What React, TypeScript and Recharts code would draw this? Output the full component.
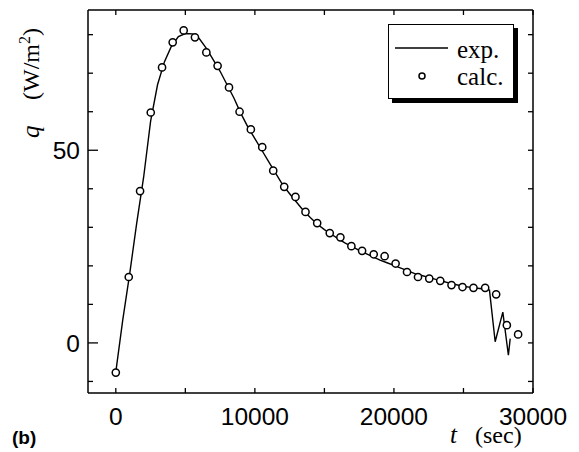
import React from 'react';
import { ComposedChart, Line, Scatter, XAxis, YAxis, Legend } from 'recharts';

// axis ticks
const tTicks = [0, 5000, 10000, 15000, 20000, 25000, 30000];
const tLabels = [0, 10000, 20000, 30000];
const qTicks = [-10, 0, 10, 20, 30, 40, 50, 60, 70, 80];
const qLabels = [0, 50];

// measured heat flux (exp.)
const expT = [0, 500, 1000, 1500, 2000, 2500, 3000, 3500, 4000, 4500, 5000, 5500, 6000, 6500, 7000, 7500, 8000, 8500, 9000, 9500, 10000, 10500, 11000, 11500, 12000, 12500, 13000, 13500, 14000, 14500, 15000, 15500, 16000, 16500, 17000, 17500, 18000, 18500, 19000, 19500, 20000, 20500, 21000, 21500, 22000, 22500, 23000, 23500, 24000, 24500, 25000, 25500, 26000, 26500, 26870, 27280, 27830, 28230, 28360];
const expQ = [-7.5, 6, 18, 31, 43, 57.5, 67, 73, 77, 79.5, 80.3, 80.2, 79, 76.5, 73.5, 70.5, 67, 63.5, 59.5, 56, 53, 50, 47, 44, 41, 38.7, 36.5, 34.3, 32.5, 30.8, 29.4, 28.2, 27, 25.9, 25, 24, 23.2, 22.3, 21.5, 20.8, 20.1, 19.4, 18.7, 18, 17.5, 17, 16.5, 16, 15.5, 15.1, 14.7, 14.4, 14.2, 14, 13.7, 0.3, 8, -3.2, 1.1];

// calculated heat flux (calc.)
const calcT = [0, 930, 1745, 2513, 3325, 4090, 4880, 5690, 6510, 7320, 8140, 8900, 9710, 10530, 11320, 12110, 12920, 13640, 14480, 15385, 16150, 16940, 17710, 18545, 19330, 20120, 20940, 21730, 22540, 23330, 24140, 24930, 25720, 26560, 27350, 28120, 28930];
const calcQ = [-7.7, 17.1, 39.4, 59.8, 71.5, 78.0, 81.1, 79.3, 75.4, 71.9, 66.3, 60.0, 55.4, 50.8, 44.7, 40.5, 37.9, 34.0, 31.1, 28.5, 27.4, 25.1, 23.9, 23.0, 22.5, 20.6, 18.4, 17.1, 16.7, 16.1, 15.0, 14.5, 14.3, 14.3, 12.6, 4.6, 2.2];

const expData = expT.map((t, i) => ({ t, q: expQ[i] }));
const calcData = calcT.map((t, i) => ({ t, q: calcQ[i] }));

const sans = '"Liberation Sans", Arial, sans-serif';
const serif = '"Liberation Serif", "Times New Roman", serif';
const frame = { stroke: '#000', strokeWidth: 1.5 };

const BottomTick = (p: any) => {
  const v = p.payload.value;
  return (
    <g>
      <line x1={p.x} x2={p.x} y1={p.y} y2={p.y - 5} stroke="#000" strokeWidth={1.3} />
      {tLabels.includes(v) && (
        <text x={p.x} y={p.y + 32} textAnchor="middle" fontFamily={sans} fontSize={24.5} fill="#000">{v}</text>
      )}
    </g>
  );
};

const TopTick = (p: any) => (
  <line x1={p.x} x2={p.x} y1={p.y} y2={p.y + 5} stroke="#000" strokeWidth={1.3} />
);

const LeftTick = (p: any) => {
  const v = p.payload.value;
  const major = qLabels.includes(v);
  return (
    <g>
      <line x1={p.x} x2={p.x + (major ? 10 : 5)} y1={p.y} y2={p.y} stroke="#000" strokeWidth={1.3} />
      {major && (
        <text x={p.x - 8} y={p.y + 9} textAnchor="end" fontFamily={sans} fontSize={24.5} fill="#000">{v}</text>
      )}
    </g>
  );
};

const RightTick = (p: any) => (
  <line x1={p.x} x2={p.x - 5} y1={p.y} y2={p.y} stroke="#000" strokeWidth={1.3} />
);

const Circle = (p: any) => (
  <circle cx={p.cx} cy={p.cy} r={3.6} fill="#fff" stroke="#000" strokeWidth={1.5} />
);

const LegendBox = () => (
  <div style={{ width: 126, height: 75, border: '1.3px solid #000', boxSizing: 'border-box', background: '#fff', boxShadow: '4px 4px 0 #000' }}>
    <svg width={124} height={73}>
      <line x1={6} x2={59} y1={23} y2={23} stroke="#000" strokeWidth={1.3} />
      <text x={68} y={33} fontFamily={serif} fontSize={25} fill="#000">exp.</text>
      <circle cx={33} cy={51} r={3} fill="#fff" stroke="#000" strokeWidth={1.5} />
      <text x={68} y={60} fontFamily={serif} fontSize={25} fill="#000">calc.</text>
    </svg>
  </div>
);

export default function App() {
  return (
    <div style={{ position: 'absolute', left: 0, top: 0, width: 579, height: 452, background: '#fff' }}>
      <ComposedChart width={579} height={452} margin={{ top: 9, right: 45, bottom: 19, left: 8 }}>
        <XAxis xAxisId="b" type="number" dataKey="t" domain={[-2000, 30000]} ticks={tTicks} interval={0}
          allowDataOverflow height={40} tickSize={0} tickMargin={0} tickLine={false} axisLine={frame} tick={BottomTick} />
        <XAxis xAxisId="t" orientation="top" type="number" dataKey="t" domain={[-2000, 30000]} ticks={tTicks} interval={0}
          allowDataOverflow height={1} tickSize={0} tickMargin={0} tickLine={false} axisLine={frame} tick={TopTick} />
        <YAxis yAxisId="l" type="number" dataKey="q" domain={[-13, 86.4]} ticks={qTicks} interval={0}
          allowDataOverflow width={80} tickSize={0} tickMargin={0} tickLine={false} axisLine={frame} tick={LeftTick} />
        <YAxis yAxisId="r" orientation="right" type="number" dataKey="q" domain={[-13, 86.4]} ticks={qTicks} interval={0}
          allowDataOverflow width={1} tickSize={0} tickMargin={0} tickLine={false} axisLine={frame} tick={RightTick} />
        <Legend layout="horizontal" verticalAlign="middle" align="center" content={LegendBox}
          wrapperStyle={{ left: 388, top: 24, width: 130, height: 80 }} />
        <Line xAxisId="b" yAxisId="l" data={expData} dataKey="q" name="exp." type="linear" stroke="#000"
          strokeWidth={1.4} dot={false} activeDot={false} isAnimationActive={false} />
        <Scatter xAxisId="b" yAxisId="l" data={calcData} dataKey="q" name="calc." shape={Circle} isAnimationActive={false} />
      </ComposedChart>
      <svg width={579} height={452} style={{ position: 'absolute', left: 0, top: 0, pointerEvents: 'none' }}>
        <text transform="rotate(-90)" x={-138} y={39} fontFamily={serif} fontSize={25} fontStyle="italic" fill="#000">q</text>
        <text transform="rotate(-90)" x={-28} y={39} textAnchor="end" fontFamily={serif} fontSize={24} fill="#000">
          (W/m<tspan dy={-9} fontSize={16}>2</tspan><tspan dy={9}>)</tspan>
        </text>
        <text x={450} y={443} fontFamily={serif} fontSize={25} fontStyle="italic" fill="#000">t</text>
        <text x={475} y={443} fontFamily={serif} fontSize={24} fill="#000">(sec)</text>
        <text x={12} y={444} fontFamily={sans} fontSize={19} fontWeight="bold" fill="#000">(b)</text>
      </svg>
    </div>
  );
}
